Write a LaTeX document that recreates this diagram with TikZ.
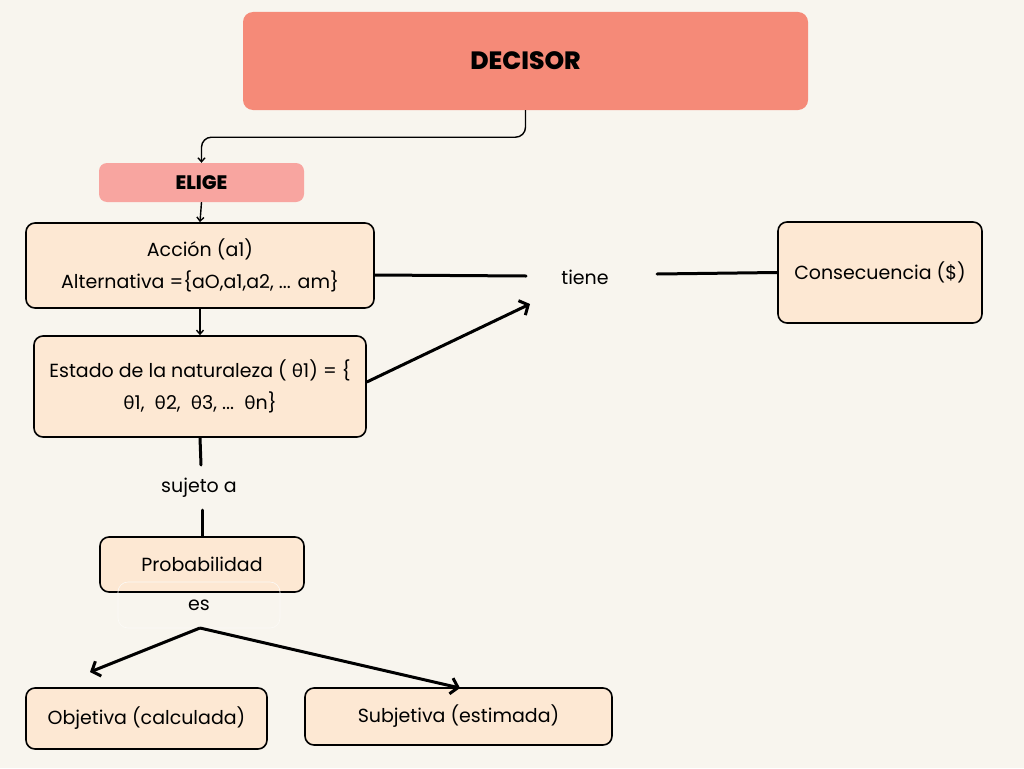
\documentclass[tikz,border=0pt]{standalone}
\usepackage{fontspec}
\setmainfont{Poppins}
\newfontfamily\headfont{Poppins ExtraBold}
\newfontfamily\grkfont{Lato}
\usetikzlibrary{arrows.meta}
\definecolor{bgcream}{HTML}{F8F5EE}
\definecolor{salmon}{HTML}{F58A78}
\definecolor{rosy}{HTML}{F8A5A0}
\definecolor{peach}{HTML}{FDE8D3}
\newcommand\thet{{\grkfont θ}}
\tikzset{
    headbox/.style={fill=salmon, rounded corners=10pt, inner sep=0pt, font=\fontsize{25}{30}\headfont},
    tagbox/.style={fill=rosy, rounded corners=8pt, inner sep=0pt, font=\fontsize{19.5}{22}\headfont},
    conceptbox/.style={draw, line width=1.6pt, fill=peach, rounded corners=9pt, inner sep=0pt, align=center, font=\fontsize{19}{32}\selectfont},
    linkword/.style={inner sep=2pt, font=\fontsize{19}{22}\selectfont},
    thinlink/.style={line width=1.4pt, -{Straight Barb[length=4pt,width=7pt]}},
    thicklink/.style={line width=3pt, line cap=round},
    thickarrow/.style={line width=3pt, -{Straight Barb[length=7pt,width=16pt]}}
}
\begin{document}
\begin{tikzpicture}[x=1pt,y=-1pt]
    \fill[bgcream] (0,0) rectangle (1024,768);
    \useasboundingbox (0,0) rectangle (1024,768);

    % boxes
    \node[headbox, minimum width=565pt, minimum height=98pt] (decisor) at (525.5,61) {DECISOR};
    \node[tagbox, minimum width=205pt, minimum height=39pt] (elige) at (201.5,182.5) {ELIGE};
    \node[conceptbox, minimum width=348pt, minimum height=85pt] (accion) at (200,265.5) {Acción (a1)\\Alternativa =\{aO,a1,a2, ... am\}};
    \node[conceptbox, minimum width=332pt, minimum height=101pt] (estado) at (200,386.5) {Estado de la naturaleza ( \thet1) = \{\\\thet1,\ \ \thet2,\ \ \thet3, ...\ \ \thet n\}};
    \node[conceptbox, minimum width=204pt, minimum height=101pt] (consec) at (880,272.5) {Consecuencia (\$)};
    \node[conceptbox, minimum width=204pt, minimum height=55pt] (probab) at (202,564.5) {Probabilidad};
    \node[conceptbox, minimum width=241pt, minimum height=61pt] (objetiva) at (146.5,718.5) {Objetiva (calculada)};
    \node[conceptbox, minimum width=307pt, minimum height=57pt] (subjetiva) at (458.5,716.5) {Subjetiva (estimada)};

    % link words
    \node[linkword] (tiene) at (585,277) {tiene};
    \node[linkword] (sujeto) at (199,488) {sujeto a};
    \node[linkword, draw=white!55!bgcream, line width=0.6pt, rounded corners=10pt, minimum width=162pt, minimum height=46pt] (es) at (199,605) {es};
    \coordinate (split) at (200,628);
    \coordinate (tieneL) at (526,276);
    \coordinate (tieneR) at (657,274);
    \coordinate (tieneIn) at (530,304);
    \coordinate (sujetoT) at (201,465);
    \coordinate (sujetoB) at (202,510);

    % connectors
    \draw[thinlink, rounded corners=10pt] (decisor.south) -- ++(0,27) -| (elige.north);
    \draw[thinlink] (elige.south) -- (accion.north);
    \draw[thinlink] (accion.south) -- (estado.north);
    \draw[thicklink] (accion.east |- 0,275) -- (tieneL);
    \draw[thicklink] (tieneR) -- (consec.west);
    \draw[thickarrow] (estado.east |- 0,382) -- (tieneIn);
    \draw[thicklink] (estado.south) -- (sujetoT);
    \draw[thicklink] (sujetoB) -- (probab.north);
    \draw[thickarrow] (split) -- (90,672);
    \draw[thickarrow] (split) -- (460,688);
\end{tikzpicture}
\end{document}
